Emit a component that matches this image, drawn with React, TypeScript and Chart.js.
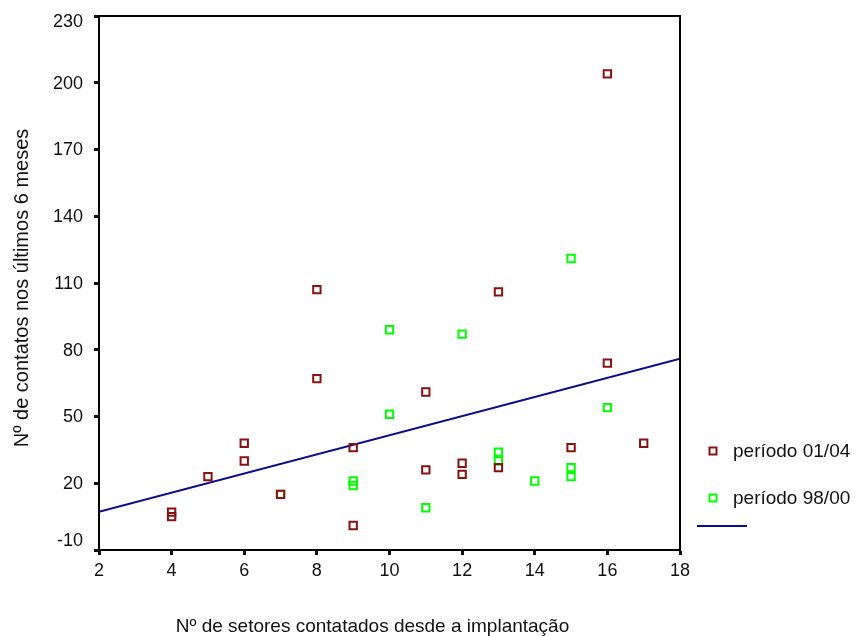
import React, { useEffect, useRef } from "react";
import { Chart, registerables } from "chart.js";

Chart.register(...registerables);

// Data
const recentLabel = "período 01/04";
const recentX = [4, 4, 5, 6, 6, 7, 8, 8, 9, 9, 11, 11, 12, 12, 13, 13, 15, 16, 16, 17];
const recentY = [7, 5, 23, 38, 30, 15, 107, 67, 36, 1, 61, 26, 29, 24, 106, 27, 36, 204, 74, 38];

const oldLabel = "período 98/00";
const oldX = [7, 9, 9, 10, 10, 11, 12, 13, 13, 14, 15, 15, 15, 16];
const oldY = [15, 21, 19, 89, 51, 9, 87, 34, 30, 21, 121, 27, 23, 54];

const fitX = [2, 18];
const fitY = [7.2, 76];

const xTitle = "Nº de setores contatados desde a implantação";
const yTitle = "Nº de contatos nos últimos 6 meses";

const xMin = 2, xMax = 18, xStep = 2;
const yMin = -10, yMax = 230, yStep = 30;

const RED = "#8b1010";
const GREEN = "#00ff00";
const NAVY = "#0c0c8c";
const FONT = "'Liberation Sans', Arial, Helvetica, sans-serif";

const toPoints = (xs: number[], ys: number[]) => xs.map((x, i) => ({ x, y: ys[i] }));

export default function App() {
  const ref = useRef<HTMLCanvasElement | null>(null);

  useEffect(() => {
    if (!ref.current) return;

    const framePlugin = {
      id: "frameAndExtras",
      afterDraw(chart: any) {
        const { ctx, chartArea } = chart;
        const { left, right, top, bottom } = chartArea;
        ctx.save();
        // top & right frame
        ctx.strokeStyle = "#000";
        ctx.lineWidth = 2;
        ctx.beginPath();
        ctx.moveTo(left, top);
        ctx.lineTo(right, top);
        ctx.lineTo(right, bottom);
        ctx.stroke();

        // y tick labels, kept inside the axis extent (like the original)
        const ys = chart.scales.y;
        ctx.fillStyle = "#111";
        ctx.font = `18px ${FONT}`;
        ctx.textAlign = "right";
        ctx.textBaseline = "middle";
        ys.ticks.forEach((t: any) => {
          const py = ys.getPixelForValue(t.value);
          const cy = Math.min(Math.max(py, top + 5), bottom - 10);
          ctx.fillText(String(t.label ?? t.value), left - 16, cy + 1);
        });

        // axis titles
        ctx.fillStyle = "#111";
        ctx.font = `19px ${FONT}`;
        ctx.textAlign = "center";
        ctx.textBaseline = "middle";
        ctx.fillText(xTitle, left + (right - left) / 2 - 17, 627);
        ctx.save();
        ctx.font = `20px ${FONT}`;
        ctx.translate(22, top + (bottom - top) / 2 + 5);
        ctx.rotate(-Math.PI / 2);
        ctx.fillText(yTitle, 0, 0);
        ctx.restore();

        // legend
        const ds = chart.data.datasets;
        const legendX = 713;
        const rows = [451, 498];
        ctx.textAlign = "left";
        ctx.font = `19px ${FONT}`;
        ds.forEach((d: any, i: number) => {
          if (i < 2) {
            const y = rows[i];
            ctx.strokeStyle = d.borderColor;
            ctx.lineWidth = 2;
            ctx.strokeRect(legendX - 3.5, y - 3.5, 7, 7);
            ctx.fillStyle = "#111";
            ctx.fillText(d.label, 733, y + 1);
          } else {
            ctx.strokeStyle = d.borderColor;
            ctx.lineWidth = 2;
            ctx.beginPath();
            ctx.moveTo(697, 526);
            ctx.lineTo(747, 526);
            ctx.stroke();
          }
        });
        ctx.restore();
      },
    };

    const chart = new Chart(ref.current, {
      type: "scatter",
      data: {
        datasets: [
          {
            label: recentLabel,
            data: toPoints(recentX, recentY),
            pointStyle: "rect",
            pointRadius: 5.2,
            pointHoverRadius: 5.2,
            borderColor: RED,
            backgroundColor: "rgba(255,255,255,0)",
            pointBorderWidth: 2,
            borderWidth: 2,
          },
          {
            label: oldLabel,
            data: toPoints(oldX, oldY),
            pointStyle: "rect",
            pointRadius: 5.2,
            pointHoverRadius: 5.2,
            borderColor: GREEN,
            backgroundColor: "rgba(255,255,255,0)",
            pointBorderWidth: 2,
            borderWidth: 2,
          },
          {
            type: "line" as any,
            label: "",
            data: toPoints(fitX, fitY),
            borderColor: NAVY,
            borderWidth: 2,
            pointRadius: 0,
            showLine: true,
            fill: false,
          } as any,
        ],
      },
      options: {
        animation: false,
        responsive: false,
        maintainAspectRatio: false,
        layout: { padding: { top: 16, right: 176, left: 0, bottom: 0 } },
        plugins: {
          legend: { display: false },
          tooltip: { enabled: false },
          title: { display: false },
        },
        scales: {
          x: {
            type: "linear",
            min: xMin,
            max: xMax,
            ticks: {
              stepSize: xStep,
              color: "#111",
              font: { family: FONT, size: 18 },
              padding: 5,
              maxRotation: 0,
            },
            grid: {
              drawOnChartArea: false,
              drawTicks: true,
              tickLength: 5,
              tickWidth: 3,
              tickColor: "#111",
              color: "#111",
            },
            border: { display: true, color: "#000", width: 2 },
            afterFit: (scale: any) => {
              scale.height = 86;
              scale.paddingLeft = 0;
              scale.paddingRight = 0;
            },
          },
          y: {
            type: "linear",
            min: yMin,
            max: yMax,
            ticks: {
              stepSize: yStep,
              display: false,
            },
            grid: {
              drawOnChartArea: false,
              drawTicks: true,
              tickLength: 5,
              tickWidth: 3,
              tickColor: "#111",
              color: "#111",
            },
            border: { display: true, color: "#000", width: 2 },
            afterFit: (scale: any) => {
              scale.width = 99;
              scale.paddingTop = 0;
              scale.paddingBottom = 0;
            },
          },
        },
      },
      plugins: [framePlugin],
    });

    return () => chart.destroy();
  }, []);

  return (
    <div style={{ position: "fixed", left: 0, top: 0, width: 856, height: 636, background: "#fff" }}>
      <canvas ref={ref} width={856} height={636} style={{ width: 856, height: 636, display: "block" }} />
    </div>
  );
}
